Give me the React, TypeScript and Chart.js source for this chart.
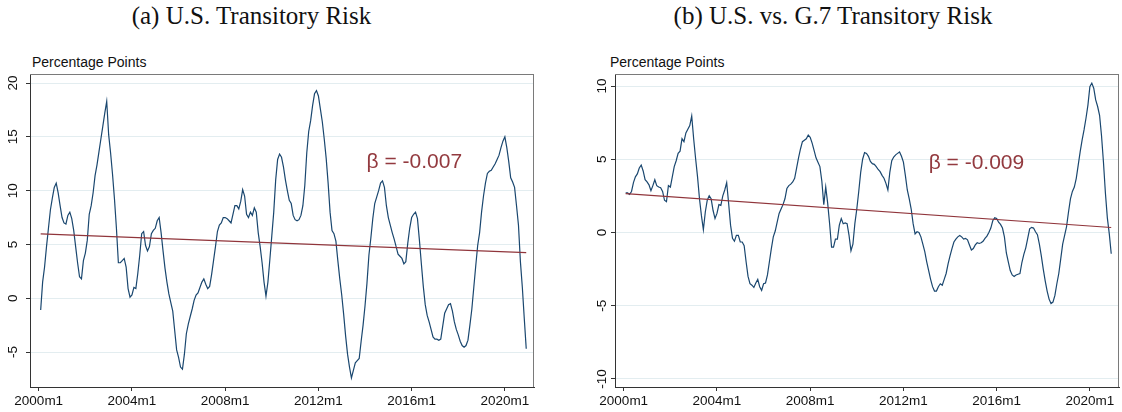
import React, { useEffect, useRef } from 'react';
import { Chart, registerables } from 'chart.js';

Chart.register(...registerables);

// Month index: 0 = 2000m1
const xTickMonths = [0, 48, 96, 144, 192, 240];
const xTickLabels = ['2000m1', '2004m1', '2008m1', '2012m1', '2016m1', '2020m1'];
const usTicks = [-5, 0, 5, 10, 15, 20];
const g7Ticks = [-10, -5, 0, 5, 10];
const seriesStartMonth = 1;

// (a) U.S. Transitory Risk, monthly from 2000m2 to 2020m12
const usValues = [
  -1.1, 1.5, 2.9, 4.8, 6.5, 8.2, 9.3, 10.3, 10.7, 9.8, 8.6, 7.5, 7.0, 6.9, 7.7, 8.0, 7.4, 6.3, 4.8, 3.3,
  2.0, 1.8, 3.5, 4.2, 5.4, 7.8, 8.6, 9.8, 11.4, 12.4, 13.6, 14.8, 16.0, 17.2, 18.3, 15.2, 13.5, 11.5, 9.2, 6.5,
  3.3, 3.3, 3.5, 3.7, 2.9, 0.9, 0.1, 0.3, 1.0, 0.9, 2.3, 4.0, 6.0, 6.2, 4.9, 4.4, 4.8, 6.0, 6.3, 6.5,
  7.2, 7.5, 6.1, 4.4, 2.8, 1.5, 0.4, -0.4, -1.2, -3.0, -4.8, -5.5, -6.4, -6.6, -5.2, -3.3, -2.4, -1.7, -1.0, -0.2,
  0.3, 0.5, 1.0, 1.5, 1.8, 1.3, 0.9, 1.1, 2.2, 3.5, 4.8, 6.2, 6.8, 7.0, 7.5, 7.5, 7.4, 7.2, 7.0, 7.8,
  8.6, 8.6, 8.3, 9.0, 10.1, 9.5, 7.8, 7.5, 8.0, 7.7, 8.4, 8.0, 6.1, 4.8, 3.3, 1.5, 0.2, 1.5, 3.6, 5.8,
  8.0, 11.0, 12.9, 13.4, 13.1, 12.2, 11.0, 10.0, 9.1, 8.8, 7.7, 7.3, 7.2, 7.3, 7.7, 8.6, 10.5, 13.5, 15.5, 16.5,
  17.9, 19.0, 19.3, 18.8, 17.6, 16.4, 14.8, 13.0, 10.7, 8.0, 6.3, 6.0, 5.3, 3.5, 1.8, 0.3, -1.5, -3.5, -5.2, -6.4,
  -7.4, -6.7, -6.0, -5.8, -5.6, -4.0, -2.5, -0.7, 1.4, 4.0, 5.6, 7.4, 8.8, 9.4, 10.0, 10.7, 10.9, 10.3, 8.6, 7.5,
  6.8, 6.1, 5.5, 4.8, 4.1, 3.9, 3.7, 3.2, 3.4, 5.1, 6.5, 7.5, 7.8, 8.0, 7.4, 5.4, 3.2, 1.1, -0.6, -1.6,
  -2.2, -2.9, -3.6, -3.8, -3.8, -3.9, -3.8, -2.6, -1.4, -1.0, -0.6, -0.5, -1.2, -2.2, -2.9, -3.4, -4.0, -4.4, -4.55, -4.4,
  -3.9, -2.5, -1.0, 1.0, 3.0, 4.9, 6.1, 8.0, 9.5, 10.7, 11.6, 11.8, 11.9, 12.2, 12.5, 12.9, 13.3, 14.0, 14.6, 15.0,
  14.0, 12.7, 11.2, 10.8, 10.3, 8.6, 6.8, 3.4, 1.0, -1.9, -4.7,
];

// (b) U.S. vs. G.7 Transitory Risk, monthly from 2000m2 to 2020m12
const g7Values = [
  2.7, 2.7, 2.6, 2.8, 3.4, 3.8, 4.0, 4.4, 4.6, 4.2, 3.6, 3.45, 3.25, 2.85, 3.2, 3.6, 3.2, 3.1, 3.05, 2.8,
  2.2, 2.1, 3.2, 3.1, 3.8, 4.5, 4.9, 5.4, 5.55, 6.4, 6.2, 6.8, 7.05, 7.3, 7.95, 6.4, 5.05, 3.8, 2.3, 1.15,
  0.2, 1.4, 2.2, 2.5, 2.3, 1.5, 0.95, 1.3, 1.9, 1.85, 2.5, 2.9, 3.4, 2.0, 0.5, -0.4, -0.6, -0.2, -0.2, -0.65,
  -0.65, -0.9, -2.0, -3.0, -3.5, -3.6, -3.75, -3.45, -3.2, -3.7, -3.95, -3.5, -3.45, -2.9, -2.0, -1.1, -0.3, 0.1, 0.7, 1.3,
  1.6, 1.9, 2.3, 3.0, 3.2, 3.3, 3.45, 3.7, 4.4, 5.1, 5.7, 6.2, 6.3, 6.4, 6.65, 6.5, 6.1, 5.6, 5.1, 4.8,
  4.5, 3.5, 1.9, 3.1, 2.0, 0.6, -1.0, -1.0, -0.45, -0.45, 0.5, 0.95, 0.6, 0.65, 0.6, -0.2, -1.25, -0.8, 0.6, 1.6,
  2.8, 4.1, 5.0, 5.45, 5.4, 5.2, 4.85, 4.7, 4.65, 4.5, 4.3, 4.15, 3.9, 3.7, 3.35, 2.9, 4.1, 4.9, 5.15, 5.3,
  5.4, 5.5, 5.2, 4.8, 3.9, 2.9, 2.3, 1.6, 0.6, -0.1, 0.05, 0.0, -0.3, -0.8, -1.3, -2.0, -2.6, -3.2, -3.7, -4.0,
  -4.0, -3.7, -3.5, -3.6, -3.2, -2.8, -2.15, -1.6, -1.1, -0.65, -0.45, -0.3, -0.2, -0.3, -0.45, -0.4, -0.5, -0.85, -1.2, -1.1,
  -0.85, -0.7, -0.75, -0.7, -0.6, -0.4, -0.25, 0.0, 0.3, 0.8, 1.0, 0.95, 0.7, 0.55, 0.3, -0.3, -1.4, -2.0, -2.6, -2.9,
  -3.0, -2.9, -2.85, -2.8, -2.05, -1.5, -1.05, -0.4, 0.25, 0.35, 0.3, 0.05, -0.15, -0.8, -1.6, -2.5, -3.3, -4.0, -4.55, -4.85,
  -4.75, -4.3, -3.5, -2.8, -1.8, -0.8, -0.2, 0.4, 1.4, 2.3, 2.8, 3.1, 3.7, 4.6, 5.5, 6.3, 7.0, 7.8, 8.7, 9.95,
  10.2, 9.85, 9.05, 8.6, 8.0, 6.6, 4.8, 2.7, 1.0, -0.1, -1.45,
];

const usTrendMonths = [1, 251];
const usTrendValues = [5.99, 4.24];
const g7TrendMonths = [1, 251];
const g7TrendValues = [2.65, 0.34];

const usBeta = 'β = -0.007';
const g7Beta = 'β = -0.009';

const SANS = '"Liberation Sans", Arial, Helvetica, sans-serif';
const SERIF = '"Liberation Serif", "Times New Roman", serif';
const NAVY = '#1a476f';
const MAROON = '#90353b';

type PanelProps = {
  values: number[];
  trendMonths: number[];
  trendValues: number[];
  yTicks: number[];
  yMin: number;
  yMax: number;
  padLeft: number;
  padRight: number;
  labelGap: number;
  beta: string;
  betaX: number;
  betaY: number;
};

function Panel(p: PanelProps) {
  const ref = useRef<HTMLCanvasElement | null>(null);
  useEffect(() => {
    if (!ref.current) return;
    const series = p.values.map((v, i) => ({ x: seriesStartMonth + i, y: v }));
    const trend = p.trendMonths.map((m, i) => ({ x: m, y: p.trendValues[i] }));
    const panelPlugin = {
      id: 'panelDecor',
      afterDatasetsDraw(chart: any) {
        const { ctx, chartArea, scales } = chart;
        ctx.save();
        ctx.font = '21px ' + SANS;
        ctx.fillStyle = '#933a3f';
        ctx.textAlign = 'left';
        ctx.textBaseline = 'alphabetic';
        ctx.fillText(p.beta, scales.x.getPixelForValue(p.betaX), scales.y.getPixelForValue(p.betaY));
        ctx.restore();
      },
      afterDraw(chart: any) {
        const { ctx, chartArea, scales } = chart;
        ctx.save();
        // top & right frame
        ctx.strokeStyle = '#7a7a7a';
        ctx.lineWidth = 1;
        ctx.beginPath();
        ctx.moveTo(chartArea.left, chartArea.top + 0.5);
        ctx.lineTo(chartArea.right, chartArea.top + 0.5);
        ctx.moveTo(chartArea.right - 0.5, chartArea.top);
        ctx.lineTo(chartArea.right - 0.5, chartArea.bottom);
        ctx.stroke();
        // rotated y tick labels
        ctx.font = '13.5px ' + SANS;
        ctx.fillStyle = '#111';
        ctx.textAlign = 'center';
        ctx.textBaseline = 'alphabetic';
        for (const v of p.yTicks) {
          const y = scales.y.getPixelForValue(v);
          ctx.save();
          ctx.translate(chartArea.left - p.labelGap, y);
          ctx.rotate(-Math.PI / 2);
          ctx.fillText(String(v), 0, 0);
          ctx.restore();
        }
        ctx.restore();
      },
    };
    const chart = new Chart(ref.current, {
      type: 'line',
      data: {
        datasets: [
          { data: trend, borderColor: MAROON, borderWidth: 1.2, pointRadius: 0, fill: false, order: 0 },
          { data: series, borderColor: NAVY, borderWidth: 1.2, pointRadius: 0, fill: false, order: 1 },
        ],
      },
      options: {
        responsive: false,
        animation: false,
        devicePixelRatio: 1,
        layout: { padding: { left: p.padLeft, right: p.padRight, top: 34, bottom: 0 } },
        plugins: { legend: { display: false }, tooltip: { enabled: false } },
        scales: {
          x: {
            type: 'linear',
            min: -4.5,
            max: 255,
            afterBuildTicks: (a: any) => {
              a.ticks = xTickMonths.map((v) => ({ value: v }));
            },
            afterFit: (s: any) => {
              s.height = 25;
            },
            ticks: {
              autoSkip: false,
              maxRotation: 0,
              minRotation: 0,
              padding: 2,
              color: '#111',
              font: { family: SANS, size: 13.5 },
              callback: (v: any) => {
                const i = xTickMonths.indexOf(Number(v));
                return i >= 0 ? xTickLabels[i] : '';
              },
            },
            grid: { drawOnChartArea: false, drawTicks: true, tickLength: 4, tickColor: '#333', color: '#333' },
            border: { display: true, color: '#333', width: 1 },
          },
          y: {
            type: 'linear',
            min: p.yMin,
            max: p.yMax,
            afterBuildTicks: (a: any) => {
              a.ticks = p.yTicks.map((v) => ({ value: v }));
            },
            afterFit: (s: any) => {
              s.width = 30;
            },
            ticks: { display: false },
            grid: { drawOnChartArea: true, drawTicks: true, tickLength: 4, tickColor: '#333', color: '#e3edf0', lineWidth: 1 },
            border: { display: true, color: '#333', width: 1 },
          },
        },
      },
      plugins: [panelPlugin],
    } as any);
    return () => chart.destroy();
  }, []);
  return <canvas ref={ref} width={561} height={372} style={{ display: 'block', width: 561, height: 372 }} />;
}

export default function App() {
  return (
    <div style={{ position: 'absolute', left: 0, top: 0, width: 1122, height: 412, background: '#fff', overflow: 'hidden' }}>
      <div style={{ position: 'absolute', left: 0, top: 3, width: 503, textAlign: 'center', fontFamily: SERIF, fontSize: 25, lineHeight: '25px', color: '#111', whiteSpace: 'nowrap' }}>
        (a) U.S. Transitory Risk
      </div>
      <div style={{ position: 'absolute', left: 561, top: 3, width: 544, textAlign: 'center', fontFamily: SERIF, fontSize: 25, lineHeight: '25px', color: '#111', whiteSpace: 'nowrap' }}>
        (b) U.S. vs. G.7 Transitory Risk
      </div>
      <div style={{ position: 'absolute', left: 32, top: 55, fontFamily: SANS, fontSize: 14, lineHeight: '14px', color: '#111', whiteSpace: 'nowrap' }}>
        Percentage Points
      </div>
      <div style={{ position: 'absolute', left: 610, top: 55, fontFamily: SANS, fontSize: 14, lineHeight: '14px', color: '#111', whiteSpace: 'nowrap' }}>
        Percentage Points
      </div>
      <div style={{ position: 'absolute', left: 0, top: 40 }}>
        <Panel values={usValues} trendMonths={usTrendMonths} trendValues={usTrendValues} yTicks={usTicks}
          yMin={-8.25} yMax={20.84} padLeft={0} padRight={27} labelGap={13} beta={usBeta} betaX={168.8} betaY={12.07} />
      </div>
      <div style={{ position: 'absolute', left: 561, top: 40 }}>
        <Panel values={g7Values} trendMonths={g7TrendMonths} trendValues={g7TrendValues} yTicks={g7Ticks}
          yMin={-10.55} yMax={10.82} padLeft={24} padRight={3} labelGap={9} beta={g7Beta} betaX={157} betaY={4.36} />
      </div>
    </div>
  );
}
